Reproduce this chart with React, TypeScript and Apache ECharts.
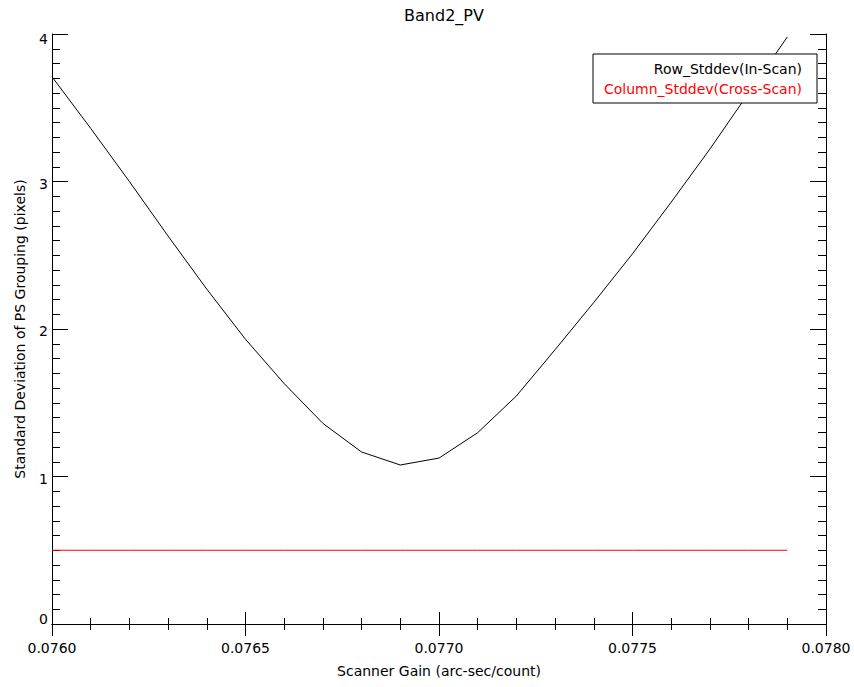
import React, { useEffect, useRef } from "react";
import * as echarts from "echarts";

const titleText = "Band2_PV";
const xAxisName = "Scanner Gain (arc-sec/count)";
const yAxisName = "Standard Deviation of PS Grouping (pixels)";
const seriesNames = ["Row_Stddev(In-Scan)", "Column_Stddev(Cross-Scan)"];
const seriesColors = ["#000000", "#ff0000"];

const gains = [
  0.076, 0.0761, 0.0762, 0.0763, 0.0764, 0.0765, 0.0766, 0.0767, 0.0768, 0.0769,
  0.077, 0.0771, 0.0772, 0.0773, 0.0774, 0.0775, 0.0776, 0.0777, 0.0778, 0.0779,
];
const rowStddev = [
  3.71, 3.36, 3.0, 2.63, 2.27, 1.93, 1.63, 1.36, 1.166, 1.078,
  1.125, 1.297, 1.546, 1.86, 2.18, 2.51, 2.86, 3.22, 3.6, 3.98,
];
const colStddev = [
  0.5, 0.5, 0.5, 0.5, 0.5, 0.5, 0.5, 0.5, 0.5, 0.5,
  0.5, 0.5, 0.5, 0.5, 0.5, 0.5, 0.5, 0.5, 0.5, 0.5,
];

const X_MIN = 0.076;
const X_MAX = 0.078;
const X_STEP = 0.0005;
const Y_MIN = 0;
const Y_MAX = 4;
const Y_STEP = 1;

const FONT = "DejaVu Sans";

export default function App() {
  const ref = useRef<HTMLDivElement>(null);

  useEffect(() => {
    if (!ref.current) return;
    const chart = echarts.init(ref.current, undefined, { renderer: "svg" });

    const axisLine = { show: true, lineStyle: { color: "#000", width: 1 } };
    const xAxisBase = {
      type: "value" as const,
      min: X_MIN,
      max: X_MAX,
      interval: X_STEP,
      axisLine,
      axisTick: { show: true, inside: true, length: 12, lineStyle: { color: "#000" } },
      minorTick: { show: true, splitNumber: 5, length: 6, lineStyle: { color: "#000" } },
      splitLine: { show: false },
    };
    const yAxisBase = {
      type: "value" as const,
      min: Y_MIN,
      max: Y_MAX,
      interval: Y_STEP,
      axisLine,
      axisTick: { show: true, inside: true, length: 16, lineStyle: { color: "#000" } },
      minorTick: { show: true, splitNumber: 10, length: 8, lineStyle: { color: "#000" } },
      splitLine: { show: false },
    };

    const legendX = 593;
    const legendY = 54;
    const legendW = 224;
    const legendH = 49;

    const yLabelStyle = { fontFamily: FONT, fontSize: 14, color: "#000" };

    chart.setOption({
      animation: false,
      backgroundColor: "#ffffff",
      title: {
        text: titleText,
        left: 439,
        top: 2,
        textAlign: "center",
        textStyle: { fontFamily: FONT, fontSize: 16, fontWeight: "normal", color: "#000" },
      },
      grid: { left: 52, top: 34, right: 28, bottom: 63, containLabel: false },
      xAxis: [
        {
          ...xAxisBase,
          position: "bottom",
          name: xAxisName,
          nameLocation: "middle",
          nameGap: 40,
          nameTextStyle: { fontFamily: FONT, fontSize: 14, color: "#000" },
          axisLabel: {
            show: true,
            margin: 17,
            fontFamily: FONT,
            fontSize: 14,
            color: "#000",
            formatter: (v: number) => v.toFixed(4),
          },
        },
        {
          ...xAxisBase,
          position: "top",
          axisLabel: { show: false },
        },
      ],
      yAxis: [
        {
          ...yAxisBase,
          position: "left",
          name: yAxisName,
          nameLocation: "middle",
          nameGap: 25,
          nameTextStyle: { fontFamily: FONT, fontSize: 14, color: "#000" },
          axisLabel: {
            show: true,
            margin: 4,
            ...yLabelStyle,
            formatter: (v: number) => {
              const s = String(Math.round(v));
              if (v >= Y_MAX) return "{top|" + s + "}";
              if (v <= Y_MIN) return "{bot|" + s + "}";
              return "{mid|" + s + "}";
            },
            rich: {
              top: { ...yLabelStyle, padding: [10, 0, 0, 0] },
              bot: { ...yLabelStyle, padding: [0, 0, 10, 0] },
              mid: { ...yLabelStyle, padding: [4, 0, 0, 0] },
            },
          },
        },
        {
          ...yAxisBase,
          position: "right",
          axisLabel: { show: false },
        },
      ],
      series: [
        {
          name: seriesNames[0],
          type: "line",
          xAxisIndex: 0,
          yAxisIndex: 0,
          data: gains.map((g, i) => [g, rowStddev[i]]),
          showSymbol: false,
          symbol: "none",
          clip: true,
          lineStyle: { color: seriesColors[0], width: 1 },
          itemStyle: { color: seriesColors[0] },
          z: 2,
        },
        {
          name: seriesNames[1],
          type: "line",
          xAxisIndex: 0,
          yAxisIndex: 0,
          data: gains.map((g, i) => [g, colStddev[i]]),
          showSymbol: false,
          symbol: "none",
          clip: true,
          lineStyle: { color: seriesColors[1], width: 1 },
          itemStyle: { color: seriesColors[1] },
          z: 2,
        },
      ],
      graphic: [
        {
          type: "rect",
          z: 100,
          zlevel: 0,
          shape: { x: legendX, y: legendY, width: legendW, height: legendH },
          style: { fill: "#ffffff", stroke: "#000", lineWidth: 1 },
        },
        ...seriesNames.map((name, i) => ({
          type: "text",
          z: 101,
          x: legendX + legendW - 15,
          y: legendY + 15 + i * 20,
          style: {
            text: name,
            fill: seriesColors[i],
            fontFamily: FONT,
            fontSize: 14,
            align: "right",
            verticalAlign: "middle",
          },
        })),
      ],
    });

    return () => chart.dispose();
  }, []);

  return (
    <div
      ref={ref}
      style={{ position: "fixed", left: 0, top: 0, width: 854, height: 687, background: "#fff" }}
    />
  );
}
